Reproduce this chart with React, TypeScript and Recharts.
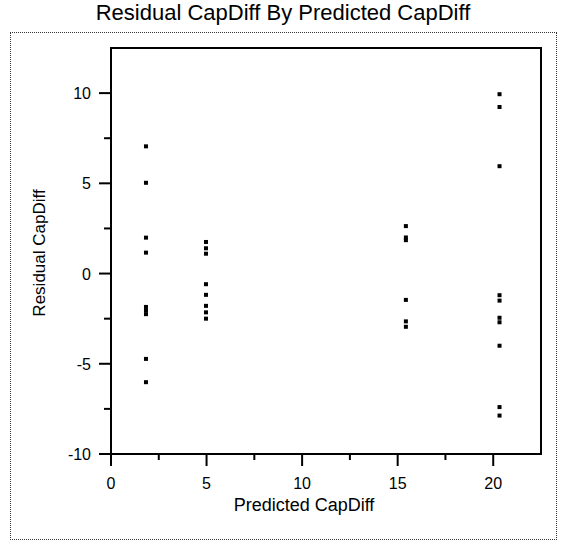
import { ScatterChart, Scatter, XAxis, YAxis, ReferenceArea } from "recharts";

// predicted CapDiff levels (x) and the residuals observed at each level (y)
const predictedLevels = [1.83, 4.97, 15.43, 20.33];
const residualsLevel1 = [7.05, 5.03, 1.99, 1.16, -1.85, -2.05, -2.25, -4.73, -6.02];
const residualsLevel2 = [1.75, 1.4, 1.1, -0.59, -1.18, -1.79, -2.15, -2.5];
const residualsLevel3 = [2.63, 2.0, 1.85, -1.46, -2.65, -2.95];
const residualsLevel4 = [9.94, 9.23, 5.95, -1.2, -1.5, -2.45, -2.7, -4.0, -7.4, -7.87];

const xTicks = [0, 2.5, 5, 7.5, 10, 12.5, 15, 17.5, 20];
const yTicks = [-10, -7.5, -5, -2.5, 0, 2.5, 5, 7.5, 10];

const points = [residualsLevel1, residualsLevel2, residualsLevel3, residualsLevel4].flatMap(
  (res, i) => res.map((r) => ({ predicted: predictedLevels[i], residual: r }))
);

const font = '"Liberation Sans", Arial, Helvetica, sans-serif';

function XTick({ x, y, payload }: any) {
  const major = payload.value % 5 === 0;
  return (
    <g>
      <line x1={x} x2={x} y1={y} y2={y + (major ? 12 : 6)} stroke="#000" strokeWidth={2} />
      {major && (
        <text x={x} y={y + 35} textAnchor="middle" fontSize={16} fontFamily={font} fill="#000">
          {payload.value}
        </text>
      )}
    </g>
  );
}

function YTick({ x, y, payload }: any) {
  const major = payload.value % 5 === 0;
  return (
    <g>
      <line x1={x - (major ? 12 : 7)} x2={x} y1={y} y2={y} stroke="#000" strokeWidth={2} />
      {major && (
        <text x={x - 20} y={y + 6} textAnchor="end" fontSize={16} fontFamily={font} fill="#000">
          {payload.value}
        </text>
      )}
    </g>
  );
}

const Dot = (props: any) => (
  <rect x={props.cx - 2} y={props.cy - 2} width={4} height={4} fill="#000" />
);

export default function App() {
  return (
    <div
      style={{
        position: "absolute",
        left: 0,
        top: 0,
        width: 561,
        height: 542,
        background: "#fff",
        fontFamily: font,
        color: "#000",
      }}
    >
      <div
        style={{
          position: "absolute",
          left: 10,
          top: 32,
          width: 545,
          height: 506,
          border: "1px dotted #333",
        }}
      />
      <div
        style={{
          position: "absolute",
          left: 0,
          width: 566,
          top: 0,
          textAlign: "center",
          fontSize: 22,
          whiteSpace: "nowrap",
        }}
      >
        Residual CapDiff By Predicted CapDiff
      </div>
      <div
        style={{
          position: "absolute",
          left: 0,
          width: 608,
          top: 495,
          textAlign: "center",
          fontSize: 18,
          whiteSpace: "nowrap",
        }}
      >
        Predicted CapDiff
      </div>
      <div
        style={{
          position: "absolute",
          left: 40,
          top: 253,
          transform: "translate(-50%, -50%) rotate(-90deg)",
          whiteSpace: "nowrap",
          fontSize: 17,
        }}
      >
        Residual CapDiff
      </div>
      <ScatterChart
        width={561}
        height={542}
        margin={{ top: 48, right: 20, bottom: 48, left: 51 }}
        style={{ position: "absolute", left: 0, top: 0 }}
      >
        <XAxis
          type="number"
          dataKey="predicted"
          domain={[0, 22.5]}
          ticks={xTicks}
          interval={0}
          height={40}
          tick={<XTick />}
          tickLine={false}
          tickSize={0}
          tickMargin={0}
          axisLine={{ stroke: "#000", strokeWidth: 2 }}
          allowDataOverflow
        />
        <YAxis
          type="number"
          dataKey="residual"
          domain={[-10, 12.5]}
          ticks={yTicks}
          interval={0}
          width={60}
          tick={<YTick />}
          tickLine={false}
          tickSize={0}
          tickMargin={0}
          axisLine={{ stroke: "#000", strokeWidth: 2 }}
          allowDataOverflow
        />
        <ReferenceArea
          x1={0}
          x2={22.5}
          y1={-10}
          y2={12.5}
          fill="none"
          stroke="#000"
          strokeWidth={2}
          ifOverflow="extendDomain"
        />
        <Scatter data={points} shape={<Dot />} isAnimationActive={false} />
      </ScatterChart>
    </div>
  );
}
